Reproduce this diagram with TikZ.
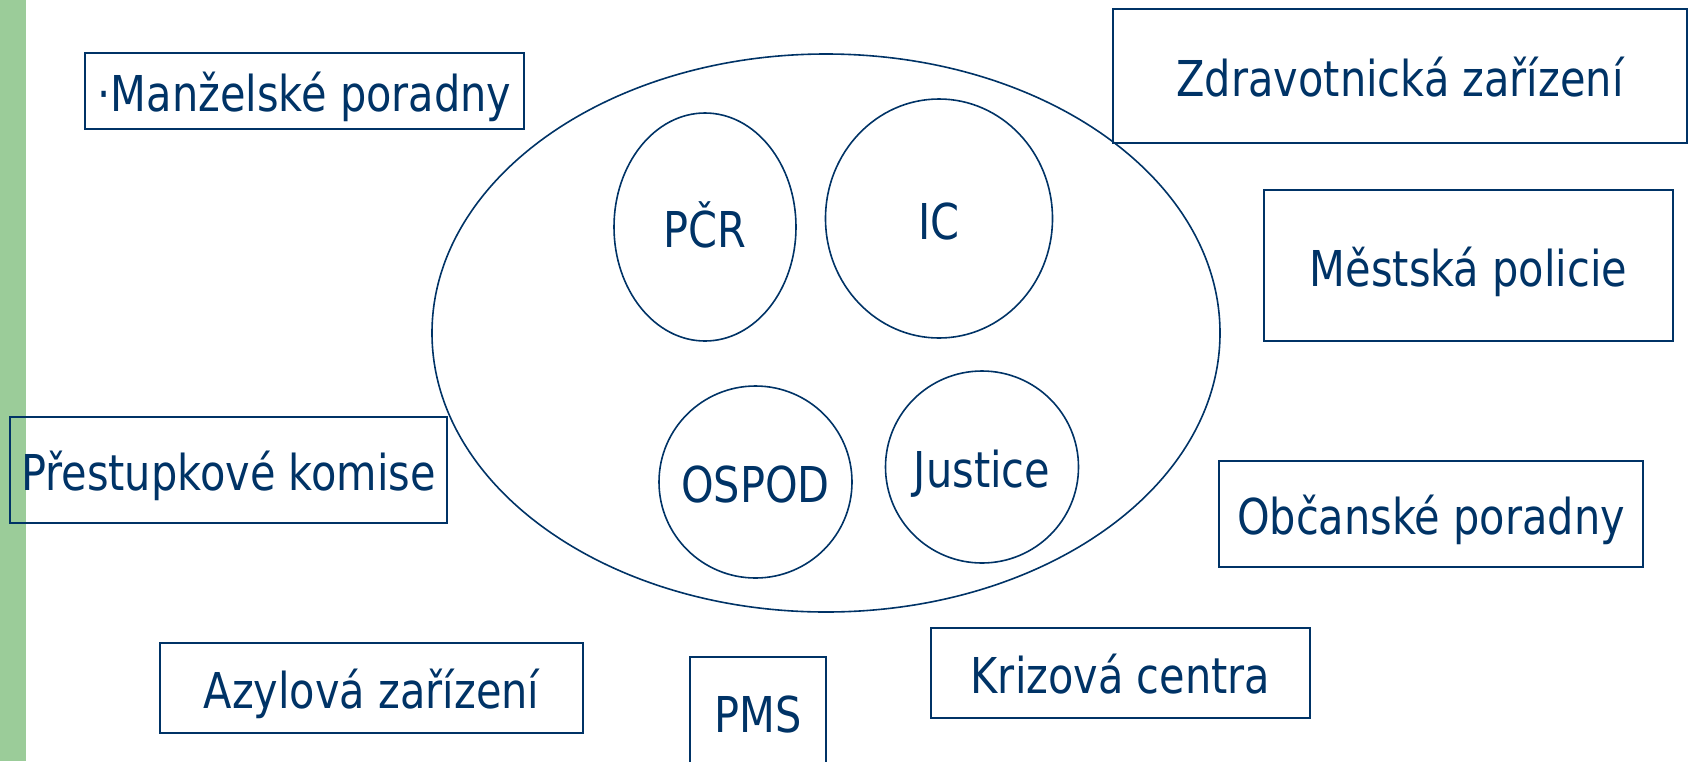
\documentclass[tikz,border=0pt]{standalone}
\usepackage{fontspec}
\setmainfont{DejaVu Sans}[FakeStretch=0.84]
\usetikzlibrary{shapes.geometric}
\definecolor{navy}{RGB}{0,51,102}
\definecolor{barg}{RGB}{155,204,153}
\newcommand{\zw}[1]{\makebox[0pt]{#1}}
\begin{document}
\begin{tikzpicture}[x=1pt,y=-1pt,
  lbl/.style={text=navy, font=\fontsize{49.4}{59}\selectfont, inner sep=0pt, outer sep=0pt, text height=49pt, text depth=7.4pt},
  boxn/.style={lbl, draw=navy, line width=2pt, rectangle},
  oval/.style={lbl, draw=navy, line width=1.6pt, ellipse}]
\useasboundingbox (0,0) rectangle (1690,761);
\clip (0,0) rectangle (1690,761);
\fill[barg] (0,0) rectangle (26,761);
% outer ellipse
\node[oval, minimum width=788pt, minimum height=558pt] (outer) at (826,333) {};
% inner ellipses
\node[oval, minimum width=182pt, minimum height=228pt] (pcr) at (705,227) {\zw{PČR}};
\node[oval, minimum width=227pt, minimum height=239pt] (ic) at (939,218.5) {\zw{IC}};
\node[oval, minimum width=193pt, minimum height=192pt] (ospod) at (755.5,482) {\zw{OSPOD}};
\node[oval, minimum width=193pt, minimum height=192pt] (justice) at (982,467) {\zw{Justice}};
% boxes
\node[boxn, minimum width=439pt, minimum height=76pt] (manz) at (304.5,91) {·Manželské poradny};
\node[boxn, minimum width=574pt, minimum height=134pt] (zdrav) at (1400,76) {Zdravotnická zařízení};
\node[boxn, minimum width=409pt, minimum height=151pt] (mest) at (1468.5,265.5) {Městská policie};
\node[boxn, minimum width=437pt, minimum height=106pt] (prest) at (228.5,470) {Přestupkové komise};
\node[boxn, minimum width=424pt, minimum height=106pt] (obc) at (1431,514) {Občanské poradny};
\node[boxn, minimum width=423pt, minimum height=90pt] (azyl) at (371.5,688) {Azylová zařízení};
\node[boxn, minimum width=379pt, minimum height=90pt] (kriz) at (1120.5,673) {Krizová centra};
\node[boxn, minimum width=136pt, minimum height=109pt] (pms) at (758,711.5) {PMS};
\end{tikzpicture}
\end{document}
